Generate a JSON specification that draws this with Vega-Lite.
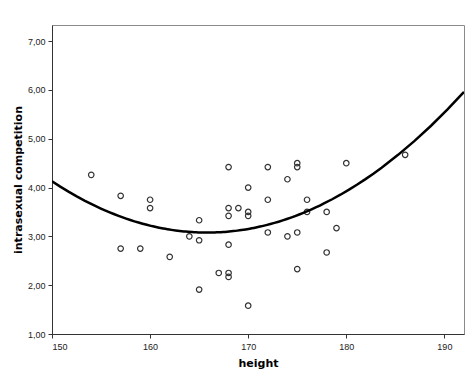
{
  "$schema": "https://vega.github.io/schema/vega-lite/v6.json",
  "width": 412,
  "height": 309,
  "autosize": "none",
  "padding": {"left": 52, "top": 25, "right": 10, "bottom": 44},
  "background": "white",
  "config": {
    "view": {"stroke": "#8a8a8a", "strokeWidth": 1},
    "axis": {"grid": false, "domainColor": "#333333", "tickColor": "#333333", "labelFont": "Liberation Sans", "labelFontSize": 9, "labelColor": "#222222", "titleFont": "DejaVu Sans", "titleFontSize": 11, "titleFontWeight": "bold", "titleColor": "#000000", "tickSize": 4}
  },
  "data": {"values": [
    {"height": 154, "intrasexual": 4.26},
    {"height": 157, "intrasexual": 3.83},
    {"height": 157, "intrasexual": 2.75},
    {"height": 159, "intrasexual": 2.75},
    {"height": 160, "intrasexual": 3.75},
    {"height": 160, "intrasexual": 3.58},
    {"height": 162, "intrasexual": 2.58},
    {"height": 164, "intrasexual": 3.0},
    {"height": 165, "intrasexual": 3.33},
    {"height": 165, "intrasexual": 2.92},
    {"height": 165, "intrasexual": 1.91},
    {"height": 167, "intrasexual": 2.25},
    {"height": 168, "intrasexual": 4.42},
    {"height": 168, "intrasexual": 3.58},
    {"height": 168, "intrasexual": 3.42},
    {"height": 168, "intrasexual": 2.83},
    {"height": 168, "intrasexual": 2.25},
    {"height": 168, "intrasexual": 2.17},
    {"height": 169, "intrasexual": 3.58},
    {"height": 170, "intrasexual": 4.0},
    {"height": 170, "intrasexual": 3.5},
    {"height": 170, "intrasexual": 3.42},
    {"height": 170, "intrasexual": 1.58},
    {"height": 172, "intrasexual": 4.42},
    {"height": 172, "intrasexual": 3.75},
    {"height": 172, "intrasexual": 3.08},
    {"height": 174, "intrasexual": 4.17},
    {"height": 174, "intrasexual": 3.0},
    {"height": 175, "intrasexual": 4.5},
    {"height": 175, "intrasexual": 4.42},
    {"height": 175, "intrasexual": 3.08},
    {"height": 175, "intrasexual": 2.33},
    {"height": 176, "intrasexual": 3.75},
    {"height": 176, "intrasexual": 3.5},
    {"height": 178, "intrasexual": 3.5},
    {"height": 178, "intrasexual": 2.67},
    {"height": 179, "intrasexual": 3.17},
    {"height": 180, "intrasexual": 4.5},
    {"height": 186, "intrasexual": 4.67}
  ]},
  "encoding": {
    "x": {"field": "height", "type": "quantitative", "title": "height",
      "scale": {"domain": [150, 192], "nice": false, "zero": false},
      "axis": {"values": [150, 160, 170, 180, 190], "labelPadding": 4, "titlePadding": 6}},
    "y": {"field": "intrasexual", "type": "quantitative", "title": "intrasexual competition",
      "scale": {"domain": [1, 7.33], "nice": false, "zero": false},
      "axis": {"values": [1, 2, 3, 4, 5, 6, 7], "labelExpr": "replace(format(datum.value, '.2f'), '.', ',')", "labelPadding": 3, "titlePadding": 4}}
  },
  "layer": [
    {
      "mark": {"type": "point", "shape": "circle", "filled": false, "stroke": "#333333", "strokeWidth": 1.2, "size": 30, "opacity": 1}
    },
    {
      "transform": [{"regression": "intrasexual", "on": "height", "method": "poly", "order": 2, "extent": [150, 192]}],
      "mark": {"type": "line", "color": "#000000", "strokeWidth": 2.5, "clip": true}
    }
  ]
}
